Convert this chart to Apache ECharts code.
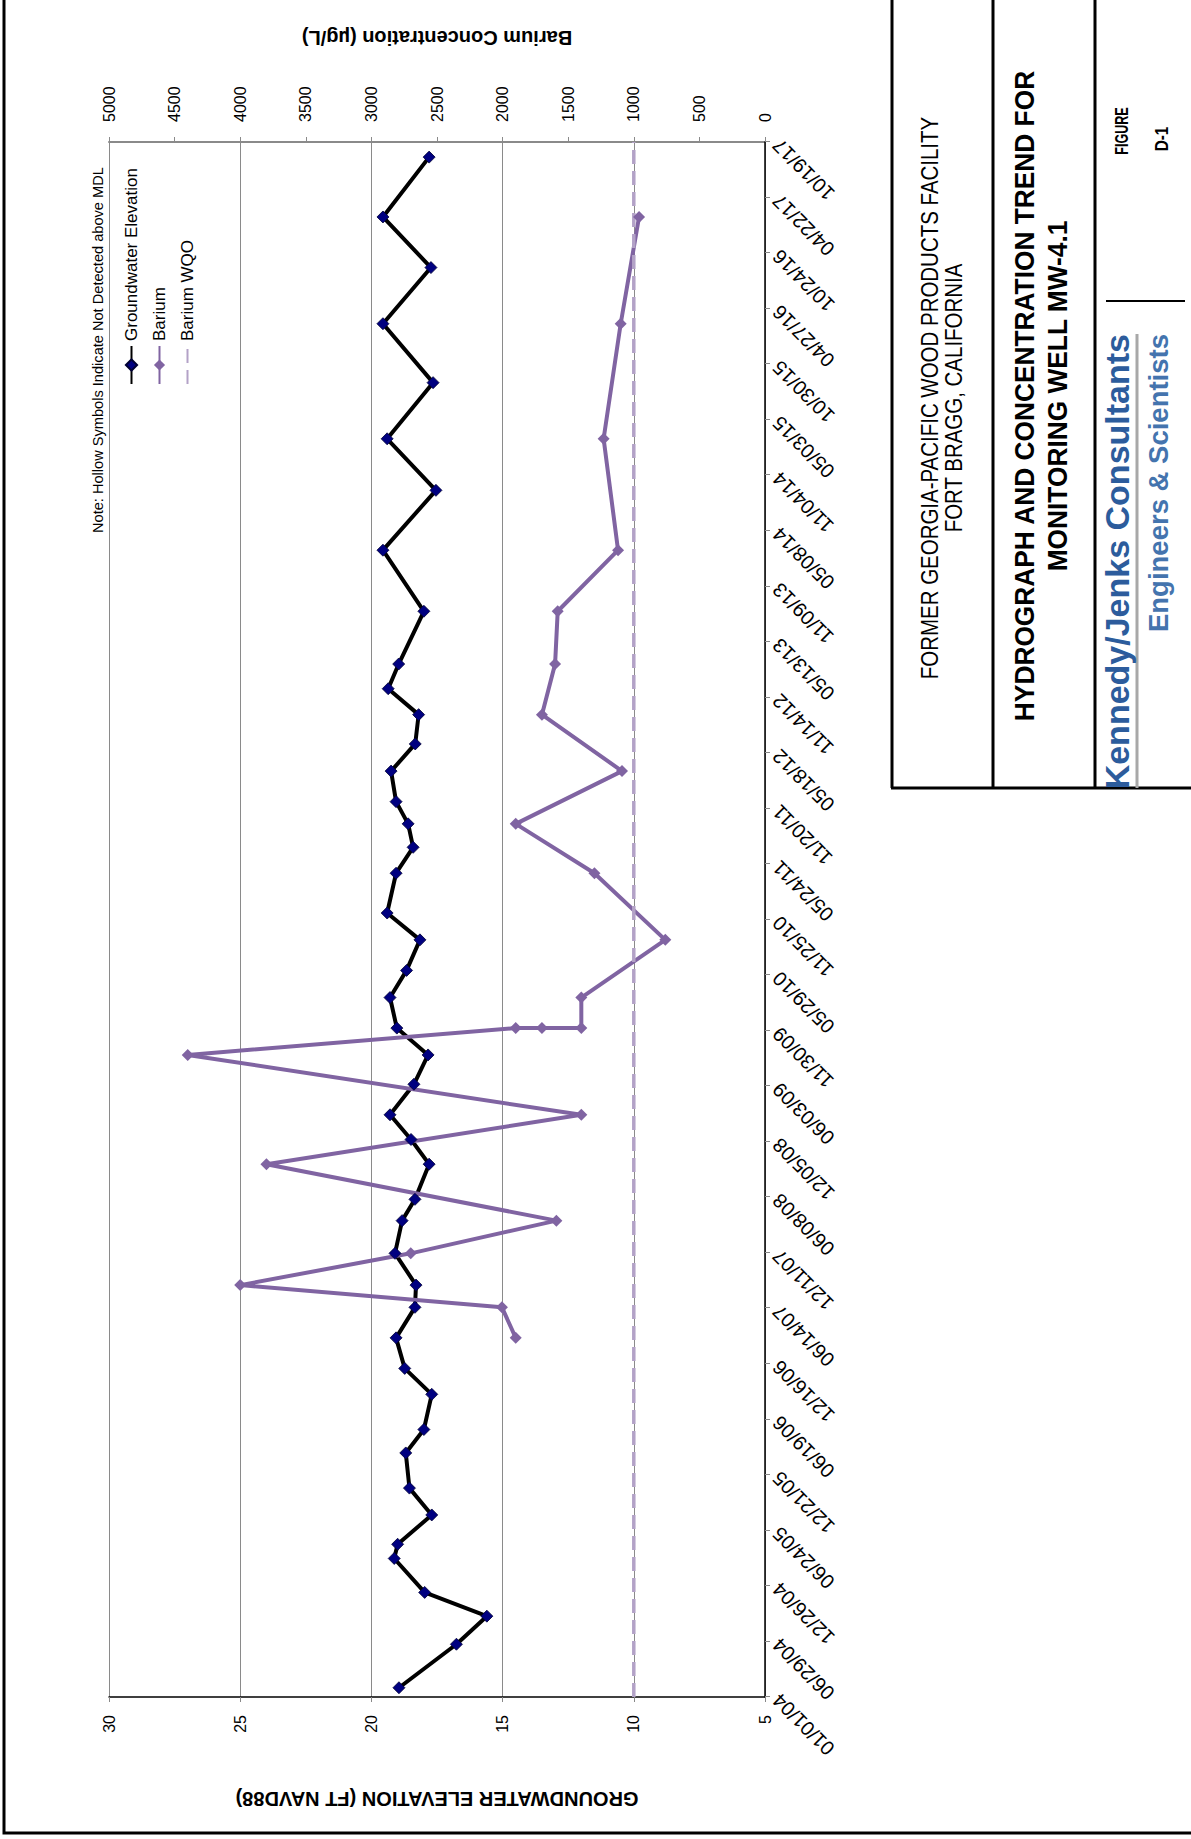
<!DOCTYPE html>
<html>
<head>
<meta charset="utf-8">
<title>MW-4.1 Hydrograph</title>
<script src="https://cdn.jsdelivr.net/npm/echarts@6/dist/echarts.min.js"></script>
<style>
html, body { margin: 0; padding: 0; background: #fff; overflow: hidden; }
/* the figure is a landscape page turned a quarter turn to the left */
#page {
    position: absolute; left: 0; top: 0;
    width: 1839px; height: 1191px;
    transform-origin: 0 0;
    transform: translateY(1839px) rotate(-90deg);
}
</style>
</head>
<body>
<div id="page"></div>
<script>
var gwDates = ['2004-01-31', '2004-06-20', '2004-09-19', '2004-12-05', '2005-03-25', '2005-05-10', '2005-08-13', '2005-11-08',
    '2006-03-02', '2006-05-17', '2006-09-08', '2006-12-01', '2007-03-10', '2007-06-17', '2007-08-28', '2007-12-09',
    '2008-03-24', '2008-06-01', '2008-09-23', '2008-12-12', '2009-03-02', '2009-06-09', '2009-09-12', '2009-12-08',
    '2010-03-17', '2010-06-13', '2010-09-20', '2010-12-16', '2011-04-24', '2011-07-17', '2011-10-01', '2011-12-12',
    '2012-03-20', '2012-06-16', '2012-09-19', '2012-12-12', '2013-03-02', '2013-08-20', '2014-03-06', '2014-09-16',
    '2015-03-02', '2015-08-31', '2016-03-09', '2016-09-07', '2017-02-18', '2017-08-31'];
var gwElev = [18.95, 16.76, 15.6, 17.97, 19.13, 19.0, 17.7, 18.55,
    18.69, 18.0, 17.7, 18.73, 19.06, 18.34, 18.3, 19.1,
    18.83, 18.34, 17.8, 18.49, 19.29, 18.38, 17.84, 19.03,
    19.29, 18.66, 18.15, 19.4, 19.06, 18.41, 18.6, 19.06,
    19.25, 18.33, 18.2, 19.36, 18.96, 18.0, 19.56, 17.54,
    19.4, 17.65, 19.56, 17.73, 19.56, 17.8];

var baDates = ['2007-03-10', '2007-06-17', '2007-08-28', '2007-12-09', '2008-03-24', '2008-09-23', '2009-03-02', '2009-09-12',
    '2009-12-08', '2009-12-08', '2009-12-08', '2010-03-17', '2010-09-20', '2011-04-24', '2011-10-01', '2012-03-20',
    '2012-09-19', '2013-03-02', '2013-08-20', '2014-03-06', '2015-03-02', '2016-03-09', '2017-02-18'];
var baValues = [1900, 2005, 4000, 2700, 1590, 3800, 1400, 4400,
    1900, 1700, 1400, 1400, 760, 1300, 1900, 1090,
    1700, 1600, 1580, 1120, 1230, 1100, 960];

var wqoDates = ['2004-01-01', '2017-10-19'];
var wqoValues = [1000, 1000];

// date axis: Excel style, 01/01/04 to 10/19/17 every 180 days
var axisStart = '2004-01-01';
var axisDays = 5040;
var axisStep = 180;

var NOTE = 'Note: Hollow Symbols Indicate Not Detected above MDL';
var FONT = '"Liberation Sans", Arial, sans-serif';

function toUTC(s) {
    var p = s.split('-');
    return Date.UTC(+p[0], +p[1] - 1, +p[2]);
}
var t0 = toUTC(axisStart);
function dayOf(s) {
    return Math.round((toUTC(s) - t0) / 86400000);
}
function pad(n) {
    return (n < 10 ? '0' : '') + n;
}
function fmtDate(v) {
    var d = new Date(t0 + v * 86400000);
    return pad(d.getUTCMonth() + 1) + '/' + pad(d.getUTCDate()) + '/' + pad(d.getUTCFullYear() % 100);
}
function pairs(dates, vals) {
    return dates.map(function (d, i) { return [dayOf(d), vals[i]]; });
}

function hline(y, x1, x2, w, c) {
    return {type: 'line', shape: {x1: x1, y1: y, x2: x2, y2: y}, style: {stroke: c || '#000', lineWidth: w}, silent: true};
}
function vline(x, y1, y2, w, c) {
    return {type: 'line', shape: {x1: x, y1: y1, x2: x, y2: y2}, style: {stroke: c || '#000', lineWidth: w}, silent: true};
}
function txt(s, x, y, size, weight, align, color, sx) {
    return {
        type: 'text', x: x, y: y, scaleX: sx || 1, silent: true,
        style: {text: s, fontFamily: FONT, fontSize: size, fontWeight: weight, fill: color || '#000',
            textAlign: align, textVerticalAlign: 'middle'}
    };
}

var chart = echarts.init(document.getElementById('page'), null, {renderer: 'svg'});
chart.setOption({
    animation: false,
    backgroundColor: '#fff',
    textStyle: {fontFamily: FONT},
    title: {
        text: NOTE, left: 1306, top: 90, padding: 0,
        textStyle: {fontSize: 14.6, fontWeight: 'normal', color: '#000', fontFamily: FONT}
    },
    legend: {
        orient: 'vertical', left: 1454, top: 123, padding: 0,
        itemWidth: 38, itemHeight: 14, itemGap: 11,
        textStyle: {fontSize: 17, color: '#000', fontFamily: FONT},
        data: ['Groundwater Elevation', 'Barium', {name: 'Barium WQO', itemStyle: {opacity: 0}}]
    },
    grid: {left: 142, right: 142, top: 109, bottom: 426},
    xAxis: {
        type: 'value', min: 0, max: axisDays, interval: axisStep,
        axisLine: {show: true, onZero: false, lineStyle: {color: '#000', width: 1.5}},
        axisTick: {show: true, length: 5, lineStyle: {color: '#888'}},
        axisLabel: {rotate: 45, fontSize: 20, color: '#000', margin: 11, formatter: fmtDate},
        splitLine: {show: false}
    },
    yAxis: [
        {
            type: 'value', min: 5, max: 30, interval: 5, position: 'left',
            name: 'GROUNDWATER ELEVATION (FT NAVD88)', nameLocation: 'middle', nameRotate: 90, nameGap: 92,
            nameTextStyle: {fontSize: 20, fontWeight: 'bold', color: '#000', fontFamily: FONT},
            axisLine: {show: true, lineStyle: {color: '#000', width: 1.5}},
            axisTick: {show: true, length: 5, lineStyle: {color: '#888'}},
            axisLabel: {fontSize: 16, color: '#000', margin: 18},
            splitLine: {show: true, lineStyle: {color: '#8a8a8a', width: 1}}
        },
        {
            type: 'value', min: 0, max: 5000, interval: 500, position: 'right',
            name: 'Barium Concentration (\u00b5g/L)', nameLocation: 'middle', nameRotate: 90, nameGap: 94,
            nameTextStyle: {fontSize: 20, fontWeight: 'bold', color: '#000', fontFamily: FONT},
            axisLine: {show: true, lineStyle: {color: '#8a8a8a', width: 2}},
            axisTick: {show: true, length: 5, lineStyle: {color: '#8a8a8a'}},
            axisLabel: {fontSize: 16, color: '#000', margin: 20, formatter: function (v) { return String(v); }},
            splitLine: {show: false}
        }
    ],
    series: [
        {
            name: 'Groundwater Elevation', type: 'line', yAxisIndex: 0,
            data: pairs(gwDates, gwElev),
            symbol: 'diamond', symbolSize: 12,
            itemStyle: {color: '#000080', borderColor: '#000033', borderWidth: 0.8},
            lineStyle: {color: '#000', width: 4}
        },
        {
            name: 'Barium', type: 'line', yAxisIndex: 1,
            data: pairs(baDates, baValues),
            symbol: 'diamond', symbolSize: 12,
            itemStyle: {color: '#8064a2'},
            lineStyle: {color: '#8064a2', width: 4}
        },
        {
            name: 'Barium WQO', type: 'line', yAxisIndex: 1,
            data: pairs(wqoDates, wqoValues),
            symbol: 'none',
            itemStyle: {color: '#b3a2c7'},
            lineStyle: {color: '#b3a2c7', width: 3.5, type: [14, 7]}
        }
    ],
    graphic: [
        {type: 'rect', shape: {x: 6, y: 4, width: 1860, height: 1220}, style: {fill: 'none', stroke: '#000', lineWidth: 3}, silent: true},
        // title block
        vline(1051, 891, 1195, 3),
        hline(892, 1051, 1845, 3),
        hline(993, 1051, 1845, 3),
        hline(1095, 1051, 1845, 3),
        vline(1538, 1106, 1185, 2),
        hline(1137, 1051, 1505, 3, '#a8a8a8'),
        txt('FORMER GEORGIA-PACIFIC WOOD PRODUCTS FACILITY', 1441, 930, 23, 'normal', 'center', '#000', 0.89),
        txt('FORT BRAGG, CALIFORNIA', 1441, 954, 23, 'normal', 'center', '#000', 0.89),
        txt('HYDROGRAPH AND CONCENTRATION TREND FOR', 1443, 1024, 28, 'bold', 'center', '#000', 0.94),
        txt('MONITORING WELL MW-4.1', 1443, 1057, 28, 'bold', 'center', '#000', 0.94),
        txt('Kennedy/Jenks Consultants', 1505, 1117, 34, 'bold', 'right', '#2c5c9c'),
        txt('Engineers & Scientists', 1505, 1158, 27.5, 'bold', 'right', '#4474ae'),
        txt('FIGURE', 1708, 1122, 18, 'bold', 'center', '#000', 0.7),
        txt('D-1', 1700, 1162, 18, 'bold', 'center', '#000', 0.85)
    ]
});
</script>
</body>
</html>
